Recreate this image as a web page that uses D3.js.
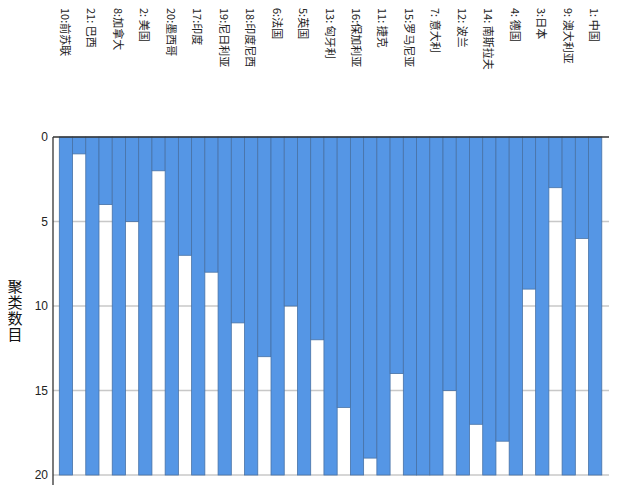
<!DOCTYPE html>
<html><head><meta charset="utf-8">
<script src="https://cdn.jsdelivr.net/npm/d3@7"></script>
<style>body{margin:0;background:#fff}svg{display:block}</style>
</head><body><svg id="c" width="622" height="485"></svg>
<script>
// Cases in icicle order
const cases = ["10:前苏联","21: 巴西","8:加拿大","2: 美国","20:墨西哥","17:印度","19:尼日利亚","18:印度尼西","6:法国","5:英国","13: 匈牙利","16:保加利亚","11: 捷克","15:罗马尼亚","7: 意大利","12: 波兰","14: 南斯拉夫","4: 德国","3:日本","9: 澳大利亚","1: 中国"];
// Number of clusters down to which each adjacent pair stays joined
const joins = [1,4,5,2,7,8,11,13,10,12,16,19,14,20,15,17,18,9,3,6];
const yTicks = [0,5,10,15,20];
const maxClusters = 20;
const yTitle = "聚类数目";

const svg = d3.select("#c");
const x = d3.scaleBand().domain(d3.range(cases.length*2-1)).range([59.3,601.8]).padding(0);
const y = d3.scaleLinear().domain([0,maxClusters]).range([137,475]);

// gridlines
svg.append("g").selectAll("line").data(yTicks.filter(t=>t>0)).join("line")
  .attr("x1",53).attr("x2",609).attr("y1",d=>y(d)).attr("y2",d=>y(d))
  .attr("stroke","#c8c8c8").attr("stroke-width",1.5);

const cols = [];
cases.forEach((c,i)=>{
  cols.push({idx:i*2, v:maxClusters});
  if(i<joins.length) cols.push({idx:i*2+1, v:joins[i]});
});
svg.append("g").selectAll("rect").data(cols).join("rect")
  .attr("x",d=>x(d.idx)).attr("width",x.bandwidth())
  .attr("y",y(0)).attr("height",d=>y(d.v)-y(0))
  .attr("fill","#5596e5").attr("stroke","#4872a6").attr("stroke-width",0.8);

// axes lines
svg.append("line").attr("x1",53).attr("x2",609).attr("y1",y(0)).attr("y2",y(0)).attr("stroke","#333").attr("stroke-width",1.3);
svg.append("line").attr("x1",53).attr("x2",53).attr("y1",y(0)).attr("y2",485).attr("stroke","#333").attr("stroke-width",1.3);

// y tick labels
svg.append("g").selectAll("text").data(yTicks).join("text")
  .attr("x",48).attr("y",d=>y(d)).attr("dy","0.35em").attr("text-anchor","end")
  .attr("font-family","Liberation Sans, Arial, sans-serif").attr("font-size",12).attr("fill","#222")
  .text(d=>d);

// y title, vertical upright
svg.append("text")
  .attr("x",15).attr("y",279)
  .attr("style","writing-mode:vertical-rl;text-orientation:upright;letter-spacing:1px")
  .attr("font-family","Noto Sans CJK SC").attr("font-size",15).attr("fill","#111")
  .text(yTitle);

// case labels rotated
svg.append("g").selectAll("text").data(cases).join("text")
  .attr("transform",(d,i)=>`translate(${x(i*2)+x.bandwidth()/2-5},8) rotate(90)`)
  .attr("font-family","Noto Sans CJK SC").attr("font-size",11).attr("fill","#222")
  .text(d=>d);
</script></body></html>
